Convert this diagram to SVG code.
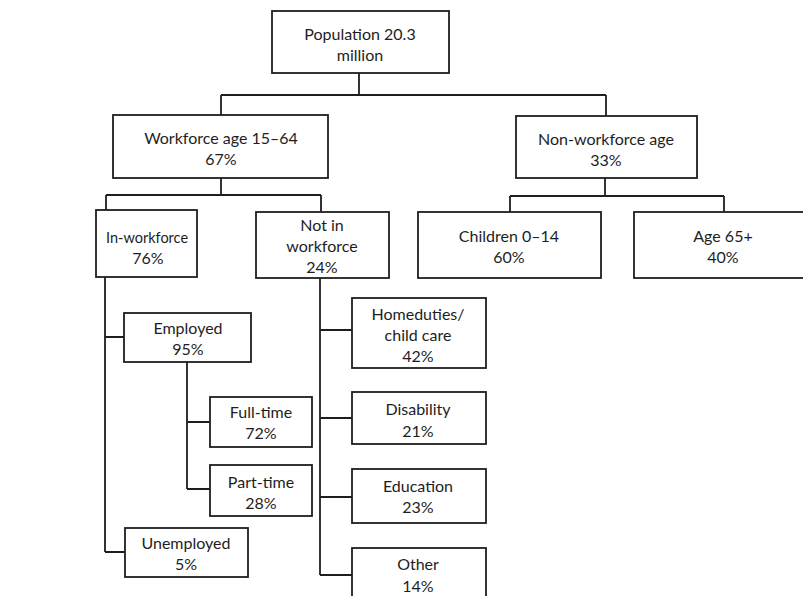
<svg xmlns="http://www.w3.org/2000/svg" width="803" height="596" viewBox="0 0 803 596">
<style>
rect.b{fill:#fff;stroke:#1e1e1e;stroke-width:1.8}
text{font-family:Lato,"Open Sans","DejaVu Sans",sans-serif;font-size:16px;fill:#1e1e1e;text-anchor:middle}
#connectors path{fill:none;stroke:#1e1e1e;stroke-width:1.8}
</style>
<rect width="803" height="596" fill="#fff"/>
<g id="connectors">
<path d="M359 73V95M221 95H606M221 95V115M606 95V116"/>
<path d="M221 178V195M106 195H321M106 195V210M321 195V212"/>
<path d="M605 178V196M510 196H724M510 196V212M724 196V212"/>
<path d="M105 277V552M105 337H124M105 552H125"/>
<path d="M187 362V489M187 422H210M187 489H210"/>
<path d="M320 278V575M320 330H352M320 418H352M320 497H352M320 575H352"/>
</g>
<g id="population"><rect class="b" x="272" y="11" width="177" height="62"/><text x="360" y="40">Population 20.3</text><text x="360" y="61">million</text></g>
<g id="workforce"><rect class="b" x="113" y="115" width="215" height="63"/><text x="221" y="144">Workforce age 15–64</text><text x="221" y="165">67%</text></g>
<g id="nonworkforce"><rect class="b" x="516" y="116" width="181" height="62"/><text x="606" y="145">Non-workforce age</text><text x="606" y="166">33%</text></g>
<g id="inworkforce"><rect class="b" x="96" y="210" width="101" height="67"/><text x="147" y="243" style="font-size:14.5px">In-workforce</text><text x="148" y="264">76%</text></g>
<g id="notinworkforce"><rect class="b" x="256" y="212" width="133" height="66"/><text x="322" y="231">Not in</text><text x="322" y="252">workforce</text><text x="322" y="273">24%</text></g>
<g id="children"><rect class="b" x="418" y="212" width="183" height="66"/><text x="509" y="242">Children 0–14</text><text x="509" y="263">60%</text></g>
<g id="age65"><rect class="b" x="634" y="212" width="180" height="66"/><text x="723" y="242">Age 65+</text><text x="723" y="263">40%</text></g>
<g id="employed"><rect class="b" x="124" y="313" width="127" height="49"/><text x="188" y="334">Employed</text><text x="188" y="355">95%</text></g>
<g id="fulltime"><rect class="b" x="210" y="397" width="102" height="50"/><text x="261" y="418">Full-time</text><text x="261" y="439">72%</text></g>
<g id="parttime"><rect class="b" x="210" y="465" width="102" height="51"/><text x="261" y="488">Part-time</text><text x="261" y="509">28%</text></g>
<g id="unemployed"><rect class="b" x="125" y="528" width="123" height="49"/><text x="186" y="549">Unemployed</text><text x="186" y="570">5%</text></g>
<g id="homeduties"><rect class="b" x="352" y="298" width="134" height="70"/><text x="418" y="320">Homeduties/</text><text x="418" y="341">child care</text><text x="418" y="362">42%</text></g>
<g id="disability"><rect class="b" x="352" y="392" width="134" height="52"/><text x="418" y="415">Disability</text><text x="418" y="437">21%</text></g>
<g id="education"><rect class="b" x="352" y="469" width="134" height="54"/><text x="418" y="492">Education</text><text x="418" y="513">23%</text></g>
<g id="other"><rect class="b" x="352" y="548" width="134" height="60"/><text x="418" y="570">Other</text><text x="418" y="592">14%</text></g>
</svg>
